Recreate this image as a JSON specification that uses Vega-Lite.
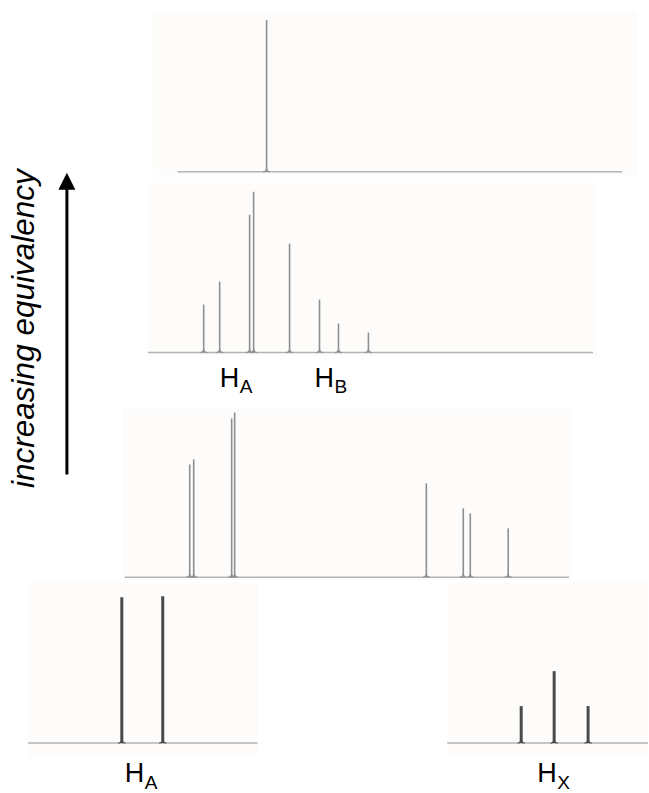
{
  "$schema": "https://vega.github.io/schema/vega-lite/v6.json",
  "width": 649,
  "height": 793,
  "padding": 0,
  "autosize": {"type": "fit", "contains": "padding"},
  "background": "white",
  "config": {"view": {"stroke": null}},
  "datasets": {
    "panels": [
      {"panel": "equivalent", "x0": 153, "x1": 639, "y0": 10, "y1": 175, "base": 172, "bx0": 178, "bx1": 623},
      {"panel": "AB close", "x0": 148, "x1": 598, "y0": 183, "y1": 356, "base": 353, "bx0": 148, "bx1": 594},
      {"panel": "AB far", "x0": 122, "x1": 572, "y0": 410, "y1": 580, "base": 578, "bx0": 125, "bx1": 570},
      {"panel": "AX left", "x0": 28, "x1": 258, "y0": 583, "y1": 757, "base": 744, "bx0": 28, "bx1": 258},
      {"panel": "AX right", "x0": 448, "x1": 649, "y0": 583, "y1": 757, "base": 744, "bx0": 448, "bx1": 649}
    ],
    "peaks": [
      {"panel": "equivalent", "group": "upper", "x": 267, "top": 20, "base": 172},
      {"panel": "AB close", "group": "upper", "x": 204, "top": 305, "base": 353},
      {"panel": "AB close", "group": "upper", "x": 220, "top": 282, "base": 353},
      {"panel": "AB close", "group": "upper", "x": 250, "top": 215, "base": 353},
      {"panel": "AB close", "group": "upper", "x": 254, "top": 192, "base": 353},
      {"panel": "AB close", "group": "upper", "x": 290, "top": 244, "base": 353},
      {"panel": "AB close", "group": "upper", "x": 320, "top": 300, "base": 353},
      {"panel": "AB close", "group": "upper", "x": 339, "top": 324, "base": 353},
      {"panel": "AB close", "group": "upper", "x": 369, "top": 333, "base": 353},
      {"panel": "AB far", "group": "upper", "x": 190, "top": 465, "base": 578},
      {"panel": "AB far", "group": "upper", "x": 194, "top": 460, "base": 578},
      {"panel": "AB far", "group": "upper", "x": 232, "top": 419, "base": 578},
      {"panel": "AB far", "group": "upper", "x": 235, "top": 413, "base": 578},
      {"panel": "AB far", "group": "upper", "x": 427, "top": 484, "base": 578},
      {"panel": "AB far", "group": "upper", "x": 464, "top": 509, "base": 578},
      {"panel": "AB far", "group": "upper", "x": 471, "top": 514, "base": 578},
      {"panel": "AB far", "group": "upper", "x": 509, "top": 529, "base": 578},
      {"panel": "AX left", "group": "lower", "x": 122, "top": 598, "base": 744},
      {"panel": "AX left", "group": "lower", "x": 163, "top": 597, "base": 744},
      {"panel": "AX right", "group": "lower", "x": 522, "top": 707, "base": 744},
      {"panel": "AX right", "group": "lower", "x": 555, "top": 672, "base": 744},
      {"panel": "AX right", "group": "lower", "x": 589, "top": 707, "base": 744}
    ],
    "labels": [
      {"text": "H", "role": "main", "x": 220, "y": 387},
      {"text": "A", "role": "sub", "x": 240, "y": 393},
      {"text": "H", "role": "main", "x": 315, "y": 387},
      {"text": "B", "role": "sub", "x": 335, "y": 393},
      {"text": "H", "role": "main", "x": 125, "y": 783},
      {"text": "A", "role": "sub", "x": 145, "y": 790},
      {"text": "H", "role": "main", "x": 538, "y": 783},
      {"text": "X", "role": "sub", "x": 558, "y": 790}
    ],
    "arrow": [
      {"label": "increasing equivalency", "x": 67, "tail": 475, "headBase": 188, "headMid": 181.5, "textX": 25, "textY": 329}
    ]
  },
  "layer": [
    {
      "data": {"name": "panels"},
      "mark": {"type": "rect", "color": "#fdfcfa"},
      "encoding": {
        "x": {"field": "x0", "type": "quantitative", "scale": {"domain": [0, 649], "nice": false, "zero": false}, "axis": null},
        "x2": {"field": "x1"},
        "y": {"field": "y0", "type": "quantitative", "scale": {"domain": [0, 793], "nice": false, "zero": false, "reverse": true}, "axis": null},
        "y2": {"field": "y1"}
      }
    },
    {
      "data": {"name": "panels"},
      "mark": {"type": "rule", "color": "#b4b4b4", "strokeWidth": 1.5},
      "encoding": {
        "x": {"field": "bx0", "type": "quantitative"},
        "x2": {"field": "bx1"},
        "y": {"field": "base", "type": "quantitative"}
      }
    },
    {
      "data": {"name": "peaks"},
      "mark": {"type": "rule"},
      "encoding": {
        "x": {"field": "x", "type": "quantitative"},
        "y": {"field": "top", "type": "quantitative"},
        "y2": {"field": "base"},
        "color": {"field": "group", "type": "nominal", "scale": {"domain": ["upper", "lower"], "range": ["#8f8f8f", "#4a4a4a"]}, "legend": null},
        "size": {"field": "group", "type": "nominal", "scale": {"domain": ["upper", "lower"], "range": [1.6, 3]}, "legend": null}
      }
    },
    {
      "data": {"name": "peaks"},
      "mark": {"type": "point", "shape": "M-1,0C-0.3,-0.05,0,-0.3,0,-1C0,-0.3,0.3,-0.05,1,0", "filled": false, "opacity": 1, "size": 49, "strokeWidth": 1.2},
      "encoding": {
        "x": {"field": "x", "type": "quantitative"},
        "y": {"field": "base", "type": "quantitative"},
        "color": {"field": "group", "type": "nominal", "scale": {"domain": ["upper", "lower"], "range": ["#8f8f8f", "#4a4a4a"]}, "legend": null}
      }
    },
    {
      "data": {"name": "labels"},
      "transform": [{"filter": "datum.role === 'main'"}],
      "mark": {"type": "text", "align": "left", "baseline": "alphabetic", "font": "Liberation Sans", "fontSize": 27, "color": "black"},
      "encoding": {
        "x": {"field": "x", "type": "quantitative"},
        "y": {"field": "y", "type": "quantitative"},
        "text": {"field": "text"}
      }
    },
    {
      "data": {"name": "labels"},
      "transform": [{"filter": "datum.role === 'sub'"}],
      "mark": {"type": "text", "align": "left", "baseline": "alphabetic", "font": "Liberation Sans", "fontSize": 19, "color": "black"},
      "encoding": {
        "x": {"field": "x", "type": "quantitative"},
        "y": {"field": "y", "type": "quantitative"},
        "text": {"field": "text"}
      }
    },
    {
      "data": {"name": "arrow"},
      "mark": {"type": "rule", "color": "black", "strokeWidth": 3},
      "encoding": {
        "x": {"field": "x", "type": "quantitative"},
        "y": {"field": "headBase", "type": "quantitative"},
        "y2": {"field": "tail"}
      }
    },
    {
      "data": {"name": "arrow"},
      "mark": {"type": "point", "shape": "M0,-1L1,1L-1,1Z", "filled": true, "color": "black", "opacity": 1, "size": 289},
      "encoding": {
        "x": {"field": "x", "type": "quantitative"},
        "y": {"field": "headMid", "type": "quantitative"}
      }
    },
    {
      "data": {"name": "arrow"},
      "mark": {"type": "text", "angle": 270, "align": "center", "baseline": "middle", "font": "Liberation Sans", "fontStyle": "italic", "fontSize": 31.5, "color": "black"},
      "encoding": {
        "x": {"field": "textX", "type": "quantitative"},
        "y": {"field": "textY", "type": "quantitative"},
        "text": {"field": "label"}
      }
    }
  ]
}
